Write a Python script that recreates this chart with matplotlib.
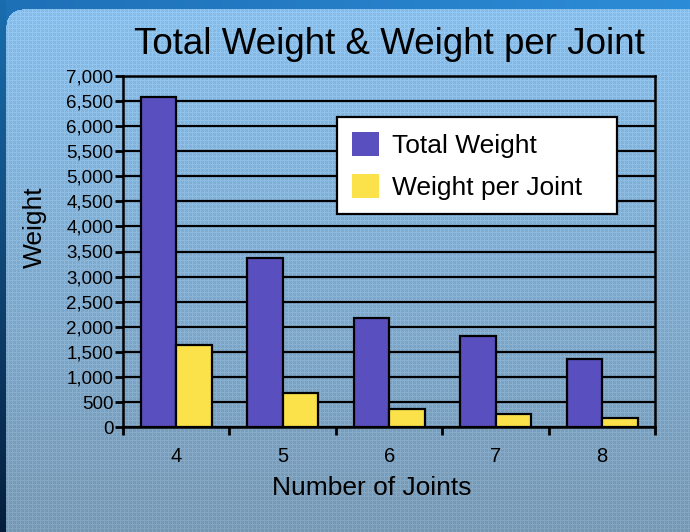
import numpy as np
import matplotlib.pyplot as plt
from matplotlib.patches import Patch
from matplotlib.ticker import FixedLocator, StrMethodFormatter

plt.rcParams['font.family'] = ['Liberation Sans', 'DejaVu Sans']

joints = [4, 5, 6, 7, 8]
total_weight = [6580, 3365, 2185, 1820, 1365]
weight_per_joint = [1635, 680, 372, 258, 182]

purple = '#5A4FBE'
yellow = '#FCE24A'

W, H = 690, 532
fig = plt.figure(figsize=(W / 100, H / 100), dpi=100)

# textured slide background
yy, xx = np.mgrid[0:H, 0:W]
t = yy / (H - 1)
base = np.empty((H, W, 3))
top_col = np.array([138, 192, 236]) / 255
bot_col = np.array([122, 155, 182]) / 255
for c in range(3):
    base[..., c] = top_col[c] * (1 - t) + bot_col[c] * t
dots = ((xx % 4 == 0) | (yy % 4 == 0)).astype(float)
chk = ((xx + yy) % 2 == 0).astype(float)
base += (0.05 * dots - 0.025 * chk)[..., None]

# frame strips and rounded panel corner
frame = np.empty((H, W, 3))
s = xx / (W - 1)
for c, (a, b) in enumerate([(30, 45), (112, 140), (182, 215)]):
    frame[..., c] = (a * (1 - s) + b * s) / 255
left = np.empty((H, W, 3))
for c, (a, b) in enumerate([(25, 6), (110, 30), (175, 60)]):
    left[..., c] = (a * (1 - t) + b * t) / 255
x0, y0, r = 6, 9, 16
inside = (xx >= x0) & (yy >= y0)
corner = (xx < x0 + r) & (yy < y0 + r)
inside &= ~corner | ((xx - (x0 + r)) ** 2 + (yy - (y0 + r)) ** 2 <= r ** 2)
img = np.where(xx[..., None] < x0, left, frame)
img = np.where(inside[..., None], base, img)
img = np.clip(img, 0, 1)

bg = fig.add_axes([0, 0, 1, 1])
bg.imshow(img, interpolation='nearest', aspect='auto')
bg.axis('off')

ax = fig.add_axes([123 / W, 1 - 427.3 / H, (655.3 - 123) / W, (427.3 - 75.7) / H])
ax.patch.set_alpha(0)

x = np.array(joints, dtype=float)
bw = 1 / 3
ax.bar(x - bw / 2, total_weight, bw, color=purple, edgecolor='black', linewidth=1.6, zorder=3, label='Total Weight')
ax.bar(x + bw / 2, weight_per_joint, bw, color=yellow, edgecolor='black', linewidth=1.6, zorder=3, label='Weight per Joint')

ax.set_xlim(3.5, 8.5)
ax.set_ylim(0, 7000)
ax.set_yticks(np.arange(0, 7001, 500))
ax.yaxis.set_major_formatter(StrMethodFormatter('{x:,.0f}'))
ax.set_xticks(joints)
ax.xaxis.set_minor_locator(FixedLocator(np.arange(3.5, 8.6, 1)))
ax.tick_params(axis='x', which='major', length=0, pad=14, labelsize=14.5)
ax.tick_params(axis='x', which='minor', length=6, width=2, direction='out')
ax.tick_params(axis='y', length=6, width=2, direction='out', pad=1, labelsize=13.5)
ax.grid(axis='y', color='black', linewidth=1.6, zorder=0)
ax.set_axisbelow(True)
for sp in ax.spines.values():
    sp.set_linewidth(1.8)
    sp.set_color('black')

fig.text(389 / W, 1 - 45 / H, 'Total Weight & Weight per Joint', fontsize=26.5, ha='center', va='center')
fig.text(372 / W, 1 - 488 / H, 'Number of Joints', fontsize=19, ha='center', va='center')
fig.text(35 / W, 1 - 227 / H, 'Weight', fontsize=19, rotation=90, ha='center', va='center')

handles = [Patch(facecolor=purple, edgecolor='none'), Patch(facecolor=yellow, edgecolor='none')]
leg = fig.legend(handles, ['Total Weight', 'Weight per Joint'], loc='upper left',
                 bbox_to_anchor=(337 / W, 1 - 216 / H, 280 / W, 99 / H), mode='expand',
                 fontsize=19, frameon=True,
                 fancybox=False, handlelength=1.05, handleheight=1.05, handletextpad=0.5,
                 labelspacing=0.6, borderpad=0.55, borderaxespad=0)
leg.get_frame().set_edgecolor('black')
leg.get_frame().set_linewidth(1.6)
leg.get_frame().set_facecolor('white')
leg.get_frame().set_alpha(1)

fig.savefig('out.png', dpi=100)
